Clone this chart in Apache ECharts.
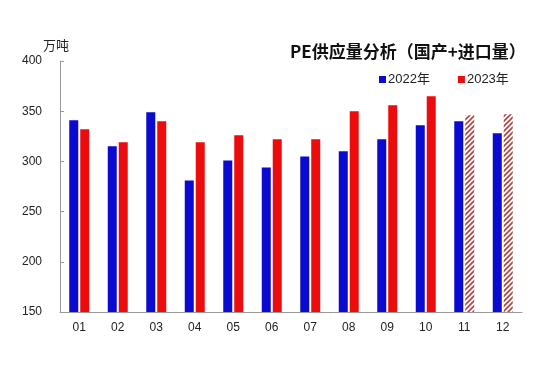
<!DOCTYPE html>
<html><head><meta charset="utf-8">
<script src="https://cdn.jsdelivr.net/npm/echarts@6/dist/echarts.min.js"></script>
<style>html,body{margin:0;padding:0;background:#fff}#c{width:558px;height:368px}</style>
</head><body><div id="c"></div>
<script>
const months = ['01','02','03','04','05','06','07','08','09','10','11','12'];
const s2022 = [341, 315, 349, 281, 301, 294, 305, 310, 322, 336, 340, 328];
const s2023 = [332, 319, 340, 319, 326, 322, 322, 350, 356, 365, 346, 347];
const forecastIdx = [10, 11];
const yTicks = [150, 200, 250, 300, 350, 400];

const pc = document.createElement('canvas');
pc.width = 5; pc.height = 5;
const g = pc.getContext('2d');
g.fillStyle = '#ffffff'; g.fillRect(0,0,5,5);
g.strokeStyle = '#b2433f'; g.lineWidth = 1.6;
g.beginPath();
g.moveTo(-1,6); g.lineTo(6,-1);
g.moveTo(-1,1); g.lineTo(1,-1);
g.moveTo(4,6); g.lineTo(6,4);
g.stroke();

const chart = echarts.init(document.getElementById('c'));
chart.setOption({
  animation:false,
  title:{text:'PE供应量分析（国产+进口量）', left:285, top:38,
    textStyle:{fontSize:17, fontWeight:'bold', color:'#111', fontFamily:'Noto Sans CJK SC'}},
  legend:{left:374, top:68, itemWidth:7, itemHeight:7, icon:'rect', itemGap:28,
    textStyle:{fontSize:13, color:'#222', fontFamily:'Liberation Sans, Noto Sans CJK SC', padding:[0,0,0,-3]},
    data:['2022年','2023年']},
  grid:{left:60, right:36, top:61, bottom:56},
  xAxis:{type:'category', data:months,
    axisLine:{lineStyle:{color:'#999'}},
    axisTick:{inside:true, length:4, lineStyle:{color:'#999'}},
    axisLabel:{fontSize:12, color:'#222', margin:10, fontFamily:'Liberation Sans'}},
  yAxis:{type:'value', min:yTicks[0], max:yTicks[yTicks.length-1], interval:50,
    name:'万吨', nameGap:9,
    nameTextStyle:{fontSize:13, color:'#222', padding:[0,8,0,0], fontFamily:'Noto Sans CJK SC'},
    axisLine:{show:true, lineStyle:{color:'#999'}},
    axisTick:{show:true, inside:true, length:4, lineStyle:{color:'#999'}},
    splitLine:{show:false},
    axisLabel:{fontSize:12, color:'#222', margin:18, fontFamily:'Liberation Sans'}},
  series:[
    {name:'2022年', type:'bar', data:s2022, barWidth:9, barGap:'22%', itemStyle:{color:'#0a0ad0'}},
    {name:'2023年', type:'bar', barWidth:9,
      data:s2023.map((v,i)=> forecastIdx.includes(i) ? {value:v, itemStyle:{color:{image:pc, repeat:'repeat'}}} : v),
      itemStyle:{color:'#ec0c0c'}}
  ]
});
</script></body></html>
